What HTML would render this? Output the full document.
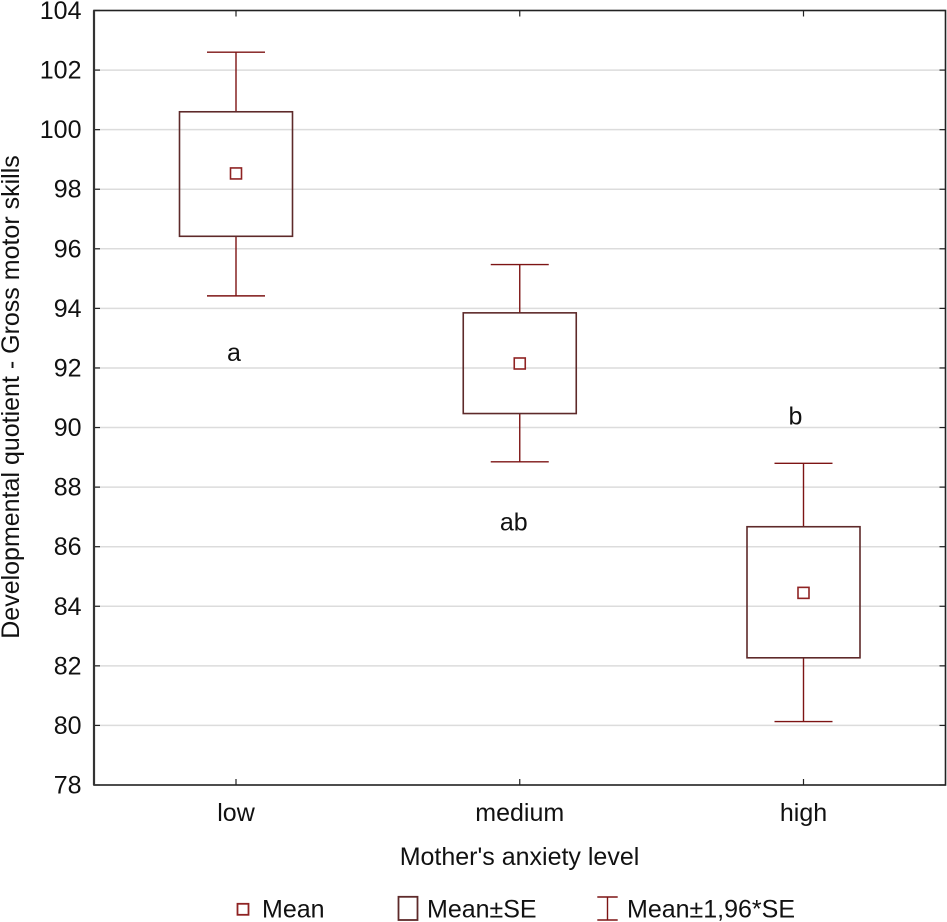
<!DOCTYPE html>
<html>
<head>
<meta charset="utf-8">
<style>
html,body{margin:0;padding:0;background:#fff;}
svg{display:block;}
text{font-family:"Liberation Sans",sans-serif;fill:#111;}
</style>
</head>
<body>
<svg id="chart" width="947" height="922" viewBox="0 0 947 922" xmlns="http://www.w3.org/2000/svg"></svg>
<script>
const categories = ['low', 'medium', 'high'];
const means = [98.53, 92.15, 84.45];
const seLow = [96.42, 90.47, 82.27];
const seHigh = [100.6, 93.85, 86.67];
const ciLow = [94.42, 88.85, 80.13];
const ciHigh = [102.6, 95.47, 88.8];
const groupLabels = ['a', 'ab', 'b'];
const groupLabelValues = [92.5, 86.82, 90.37];
const groupLabelOffsets = [-2, -6, -8];
const yTicks = [78, 80, 82, 84, 86, 88, 90, 92, 94, 96, 98, 100, 102, 104];

const svg = document.getElementById('chart');
const NS = 'http://www.w3.org/2000/svg';
const plot = {left: 94, right: 945.5, top: 10.5, bottom: 785};
const yMin = 78, yMax = 104;
const boxHalf = 56.5, capHalf = 29, markerHalf = 5.5;
const boxColor = '#5e2a2a', whiskerColor = '#7d1414', markerColor = '#8f2323';
const fontSize = 25;

function yScale(v) {
  return plot.bottom - (v - yMin) / (yMax - yMin) * (plot.bottom - plot.top);
}
function xScale(i) {
  return 236 + i * 283.75;
}
function make(tag, attrs, parent) {
  const el = document.createElementNS(NS, tag);
  for (const k in attrs) el.setAttribute(k, attrs[k]);
  (parent || svg).appendChild(el);
  return el;
}
function line(x1, y1, x2, y2, stroke, width, parent) {
  return make('line', {x1: x1, y1: y1, x2: x2, y2: y2, stroke: stroke, 'stroke-width': width}, parent);
}

// grid lines
yTicks.forEach(function (t) {
  if (t === yMin || t === yMax) return;
  const g = line(plot.left, yScale(t), plot.right, yScale(t), '#dcdcdc', 1.5);
  
  
});

// y ticks and labels
yTicks.forEach(function (t) {
  const y = yScale(t);
  const a = line(plot.left, y, plot.left + 6, y, '#222', 1.2);
  
  
  const b = line(plot.right - 6, y, plot.right, y, '#222', 1.2);
  
  
  const label = make('text', {x: 81.5, y: y + 8.5, 'text-anchor': 'end', 'font-size': fontSize});
  label.textContent = t;
  
  
});

// series
categories.forEach(function (c, i) {
  const x = xScale(i);
  const group = make('g', {});
  
  

  const upper = line(x, yScale(ciHigh[i]), x, yScale(seHigh[i]), whiskerColor, 1.4, group);
  
  
  const lower = line(x, yScale(seLow[i]), x, yScale(ciLow[i]), whiskerColor, 1.4, group);
  
  
  const capU = line(x - capHalf, yScale(ciHigh[i]), x + capHalf, yScale(ciHigh[i]), whiskerColor, 1.4, group);
  
  
  const capL = line(x - capHalf, yScale(ciLow[i]), x + capHalf, yScale(ciLow[i]), whiskerColor, 1.4, group);
  
  

  const rect = make('rect', {
    x: x - boxHalf, y: yScale(seHigh[i]), width: boxHalf * 2,
    height: yScale(seLow[i]) - yScale(seHigh[i]),
    fill: 'none', stroke: boxColor, 'stroke-width': 1.6
  }, group);
  
  

  const marker = make('rect', {
    x: x - markerHalf, y: yScale(means[i]) - markerHalf,
    width: markerHalf * 2, height: markerHalf * 2,
    fill: '#fff', stroke: markerColor, 'stroke-width': 1.6
  }, group);
  
  

  const tb = line(x, plot.bottom - 6, x, plot.bottom, '#222', 1.2);
  
  
  const tt = line(x, plot.top, x, plot.top + 6, '#222', 1.2);
  
  

  const label = make('text', {x: x, y: 821, 'text-anchor': 'middle', 'font-size': fontSize});
  label.textContent = c;
  
  

  const sig = make('text', {x: x + groupLabelOffsets[i], y: yScale(groupLabelValues[i]) + 8, 'text-anchor': 'middle', 'font-size': fontSize});
  sig.textContent = groupLabels[i];
  
  
});

// frame
const frame = make('rect', {
  x: plot.left, y: plot.top, width: plot.right - plot.left, height: plot.bottom - plot.top,
  fill: 'none', stroke: '#222', 'stroke-width': 1.6
});


const leftSpine = line(plot.left, plot.top, plot.left, plot.bottom, '#333', 2.2);



// axis titles
const xTitle = make('text', {x: 519.5, y: 865, 'text-anchor': 'middle', 'font-size': fontSize});
xTitle.textContent = "Mother's anxiety level";



const yTitle = make('text', {x: 0, y: 0, 'text-anchor': 'middle', 'font-size': fontSize, transform: 'translate(19,397) rotate(-90)'});
yTitle.textContent = 'Developmental quotient - Gross motor skills';



// legend
const legend = make('g', {});



const legendMean = make('rect', {x: 237.5, y: 903.8, width: 11, height: 11, fill: '#fff', stroke: markerColor, 'stroke-width': 1.8}, legend);


const legendMeanText = make('text', {x: 262, y: 917.5, 'font-size': fontSize}, legend);
legendMeanText.textContent = 'Mean';



const legendBox = make('rect', {x: 398.5, y: 896.8, width: 19, height: 23.2, fill: '#fff', stroke: boxColor, 'stroke-width': 1.8}, legend);


const legendBoxText = make('text', {x: 427, y: 917.5, 'font-size': fontSize}, legend);
legendBoxText.textContent = 'Mean±SE';



const legendCap1 = line(597.3, 897, 617.7, 897, whiskerColor, 1.6, legend);


const legendStem = line(607.5, 897, 607.5, 920, whiskerColor, 1.4, legend);


const legendCap2 = line(597.3, 920, 617.7, 920, whiskerColor, 1.6, legend);


const legendWhiskerText = make('text', {x: 627, y: 917.5, 'font-size': fontSize}, legend);
legendWhiskerText.textContent = 'Mean±1,96*SE';


</script>
</body>
</html>
